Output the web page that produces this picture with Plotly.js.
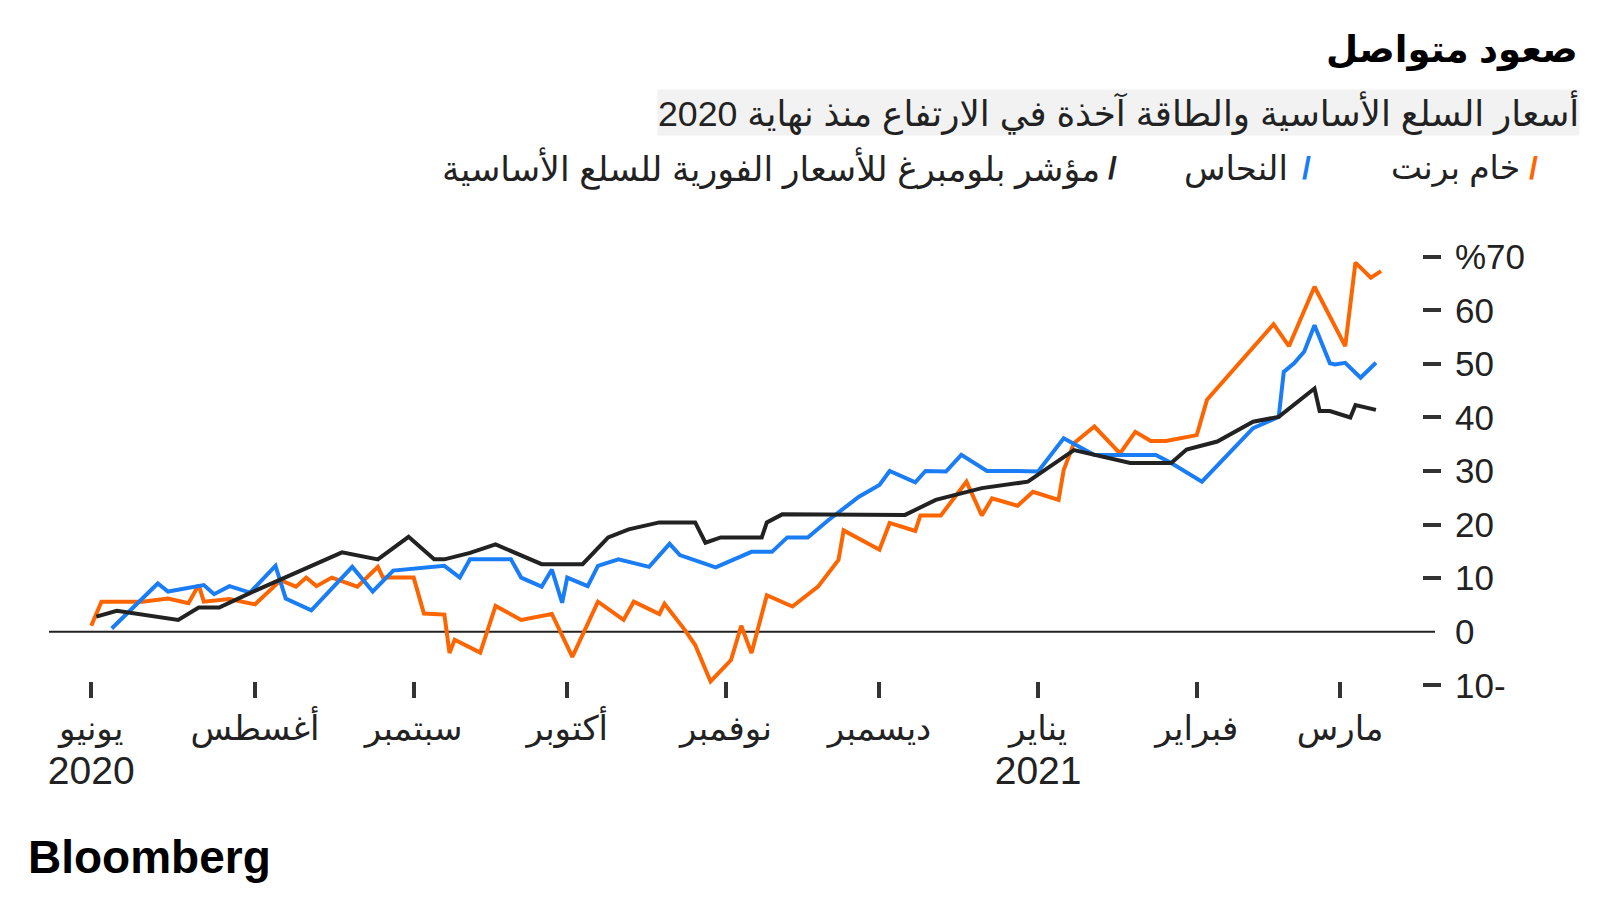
<!DOCTYPE html>
<html>
<head>
<meta charset="utf-8">
<script src="https://cdn.plot.ly/plotly-3.0.1.min.js"></script>
<style>
  html, body { margin: 0; padding: 0; background: #fff; }
  #chart { width: 1600px; height: 900px; }
</style>
</head>
<body>
<div id="chart"></div>
<script>
// Brent crude, copper and the Bloomberg spot commodity index, % change since mid-2020.
const brentDates = ['2020-06-30', '2020-07-02', '2020-07-10', '2020-07-15', '2020-07-19', '2020-07-21',
  '2020-07-22', '2020-07-27', '2020-08-01', '2020-08-06', '2020-08-09', '2020-08-11', '2020-08-13',
  '2020-08-16', '2020-08-21', '2020-08-25', '2020-08-26', '2020-09-01', '2020-09-03', '2020-09-07',
  '2020-09-08', '2020-09-09', '2020-09-14', '2020-09-17', '2020-09-22', '2020-09-28', '2020-10-02',
  '2020-10-07', '2020-10-12', '2020-10-14', '2020-10-19', '2020-10-20', '2020-10-24', '2020-10-26',
  '2020-10-29', '2020-11-02', '2020-11-04', '2020-11-06', '2020-11-09', '2020-11-14', '2020-11-19',
  '2020-11-21', '2020-11-23', '2020-11-24', '2020-12-01', '2020-12-03', '2020-12-08', '2020-12-09',
  '2020-12-13', '2020-12-18', '2020-12-21', '2020-12-23', '2020-12-28', '2020-12-31', '2021-01-05',
  '2021-01-06', '2021-01-08', '2021-01-12', '2021-01-17', '2021-01-20', '2021-01-23', '2021-01-26',
  '2021-02-01', '2021-02-03', '2021-02-16', '2021-02-19', '2021-02-24', '2021-03-02', '2021-03-04',
  '2021-03-07', '2021-03-09'];
const brentValues = [1.1, 5.6, 5.6, 6.2, 5.3, 8.7,
  5.6, 6.1, 5.1, 9.6, 8.4, 10.1, 8.5,
  10.1, 8.4, 12.1, 10.1, 10.1, 3.4, 3.2,
  -4.0, -1.5, -3.9, 4.8, 2.2, 3.3, -4.7,
  5.6, 2.2, 5.6, 3.3, 5.2, 0.3, -2.5,
  -9.3, -5.3, 1.1, -4.0, 6.8, 4.7, 8.4,
  10.9, 13.4, 18.9, 15.3, 20.3, 18.8, 21.7,
  21.7, 28.0, 21.7, 24.9, 23.5, 26.1, 24.6,
  30.2, 35.2, 38.3, 33.3, 37.3, 35.6, 35.6,
  36.7, 43.3, 57.4, 53.3, 64.4, 53.3, 68.9,
  66.1, 67.3];

const copperDates = ['2020-07-04', '2020-07-13', '2020-07-15', '2020-07-22', '2020-07-24', '2020-07-27',
  '2020-07-31', '2020-08-05', '2020-08-07', '2020-08-12', '2020-08-20', '2020-08-24', '2020-08-28',
  '2020-09-07', '2020-09-10', '2020-09-12', '2020-09-20', '2020-09-22', '2020-09-26', '2020-09-28',
  '2020-09-30', '2020-10-01', '2020-10-05', '2020-10-07', '2020-10-11', '2020-10-17', '2020-10-21',
  '2020-10-23', '2020-10-30', '2020-11-02', '2020-11-06', '2020-11-10', '2020-11-13', '2020-11-17',
  '2020-11-21', '2020-11-27', '2020-12-01', '2020-12-03', '2020-12-08', '2020-12-10', '2020-12-14',
  '2020-12-17', '2020-12-22', '2020-12-28', '2021-01-01', '2021-01-06', '2021-01-12', '2021-01-24',
  '2021-01-27', '2021-02-02', '2021-02-12', '2021-02-17', '2021-02-18', '2021-02-20', '2021-02-22',
  '2021-02-24', '2021-02-27', '2021-02-28', '2021-03-02', '2021-03-05', '2021-03-08'];
const copperValues = [0.6, 9.0, 7.5, 8.7, 7.0, 8.5,
  7.3, 12.3, 6.2, 4.0, 12.1, 7.5, 11.4,
  12.3, 10.1, 13.5, 13.5, 10.1, 8.4, 11.6,
  5.4, 10.1, 8.5, 12.3, 13.5, 12.1, 16.4,
  14.3, 12.0, 13.2, 14.9, 14.9, 17.6, 17.6,
  20.8, 25.2, 27.4, 30.0, 27.9, 30.0, 29.9,
  33.0, 30.0, 30.0, 29.9, 36.1, 33.0, 33.0,
  31.5, 28.0, 38.0, 40.1, 48.5, 50.1, 52.3,
  57.2, 50.1, 49.9, 50.2, 47.4, 50.2];

const bcomDates = ['2020-07-01', '2020-07-05', '2020-07-17', '2020-07-21', '2020-07-25', '2020-07-31',
  '2020-08-18', '2020-08-25', '2020-08-31', '2020-09-05', '2020-09-07', '2020-09-12', '2020-09-17',
  '2020-09-26', '2020-10-04', '2020-10-09', '2020-10-13', '2020-10-19', '2020-10-26', '2020-10-28',
  '2020-10-31', '2020-11-08', '2020-11-09', '2020-11-12', '2020-12-06', '2020-12-12', '2020-12-21',
  '2020-12-30', '2021-01-08', '2021-01-12', '2021-01-19', '2021-01-27', '2021-01-30', '2021-02-05',
  '2021-02-12', '2021-02-17', '2021-02-24', '2021-02-25', '2021-02-27', '2021-03-03', '2021-03-04',
  '2021-03-08'];
const bcomValues = [2.8, 3.9, 2.2, 4.5, 4.5, 7.2,
  14.8, 13.5, 17.7, 13.5, 13.5, 14.7, 16.3,
  12.6, 12.6, 17.6, 19.1, 20.4, 20.4, 16.6,
  17.6, 17.6, 20.4, 21.9, 21.8, 24.6, 26.8,
  28.0, 33.9, 33.0, 31.5, 31.5, 34.0, 35.5,
  39.2, 40.1, 45.4, 41.2, 41.2, 40.0, 42.3,
  41.4];

const seriesNames = ['خام برنت', 'النحاس', 'مؤشر بلومبرغ للأسعار الفورية للسلع الأساسية'];

const monthTickDates = ['2020-06-30', '2020-08-01', '2020-09-01', '2020-10-01', '2020-11-01',
  '2020-12-01', '2021-01-01', '2021-02-01', '2021-03-01'];
const monthTickLabels = ['يونيو<br><span style="font-size:39px">2020</span>', 'أغسطس', 'سبتمبر', 'أكتوبر', 'نوفمبر',
  'ديسمبر', 'يناير<br><span style="font-size:39px">2021</span>', 'فبراير', 'مارس'];

const yTickVals = [-10, 0, 10, 20, 30, 40, 50, 60, 70];
const yTickLabels = ['10-', '0', '10', '20', '30', '40', '50', '60', '%70'];

const C = { orange: '#fc6500', blue: '#1a7df5', black: '#222222', text: '#222222', band: '#f2f2f2' };
const FONT = 'Liberation Sans, DejaVu Sans, sans-serif';

// plot box in page pixels, used to place the headline, legend and logo
const L = 49, R = 1422, T = 246, B = 698;
const fx = (px) => (px - L) / (R - L);
const fy = (py) => (B - py) / (B - T);

function line(x, y, name, color, yaxis) {
  return { type: 'scatter', mode: 'lines', x, y, name, yaxis,
           line: { color, width: 4, shape: 'linear' }, hoverinfo: 'skip' };
}

const traces = [
  line(brentDates, brentValues, seriesNames[0], C.orange, 'y'),
  line(copperDates, copperValues, seriesNames[1], C.blue, 'y'),
  line(bcomDates, bcomValues, seriesNames[2], C.black, 'y2'),
];

function legendItem(textRight, slashX, label, color, size) {
  return [
    { xref: 'paper', yref: 'paper', x: fx(slashX), y: fy(168), xanchor: 'center', yanchor: 'middle',
      text: '<b>/</b>', showarrow: false, font: { family: FONT, size: 32, color } },
    { xref: 'paper', yref: 'paper', x: fx(textRight), y: fy(168), xanchor: 'right', yanchor: 'middle',
      text: label, showarrow: false, font: { family: FONT, size, color: C.text } },
  ];
}

const annotations = [
  { xref: 'paper', yref: 'paper', x: fx(1580), y: fy(50), xanchor: 'right', yanchor: 'middle',
    text: '<b>صعود متواصل</b>', showarrow: false, font: { family: FONT, size: 37, color: '#000' } },
  { xref: 'paper', yref: 'paper', x: fx(1580), y: fy(112), xanchor: 'right', yanchor: 'middle',
    text: 'أسعار السلع الأساسية والطاقة آخذة في الارتفاع منذ نهاية 2020', showarrow: false,
    bgcolor: C.band, borderpad: 0, font: { family: FONT, size: 35.7, color: C.text } },
  ...legendItem(1522, 1534, seriesNames[0], C.orange, 33),
  ...legendItem(1290, 1306, seriesNames[1], C.blue, 34),
  ...legendItem(1102, 1112, seriesNames[2], C.black, 34.8),
  { xref: 'paper', yref: 'paper', x: fx(26), y: fy(857), xanchor: 'left', yanchor: 'middle',
    text: '<b>Bloomberg</b>', showarrow: false, font: { family: FONT, size: 46, color: '#000' } },
];

const yRange = [-12.38, 72];

const layout = {
  width: 1600, height: 900,
  paper_bgcolor: '#fff', plot_bgcolor: '#fff',
  margin: { l: L, r: 1600 - R, t: T, b: 900 - B },
  showlegend: false,
  font: { family: FONT, color: C.text },
  xaxis: {
    type: 'date', range: ['2020-06-21 18:00', '2021-03-17'],
    tickmode: 'array', tickvals: monthTickDates, ticktext: monthTickLabels,
    ticks: 'inside', ticklen: 16, tickwidth: 4, tickcolor: '#333', ticklabelstandoff: 7,
    showgrid: false, zeroline: false, showline: false,
    tickfont: { family: FONT, size: 34, color: C.text },
  },
  yaxis: {
    side: 'right', range: yRange,
    tickmode: 'array', tickvals: yTickVals, ticktext: yTickLabels,
    ticks: 'outside', ticklen: 18, tickcolor: 'rgba(0,0,0,0)', ticklabelstandoff: 7,
    showgrid: false, zeroline: false, showline: false,
    tickfont: { family: FONT, size: 35, color: C.text },
  },
  // second axis only for the dash marks, so 0 keeps the plain baseline
  yaxis2: {
    overlaying: 'y', side: 'right', range: yRange,
    tickmode: 'array', tickvals: yTickVals.filter((v) => v !== 0),
    ticks: 'outside', ticklen: 18, tickwidth: 4, tickcolor: '#333',
    showticklabels: false, showgrid: false, zeroline: false, showline: false,
  },
  shapes: [
    { type: 'line', xref: 'paper', yref: 'y', x0: 0, x1: fx(1435), y0: 0, y1: 0,
      line: { color: '#222', width: 2 }, layer: 'below' },
  ],
  annotations,
};

Plotly.newPlot('chart', traces, layout, { displayModeBar: false, staticPlot: true });
</script>
</body>
</html>
